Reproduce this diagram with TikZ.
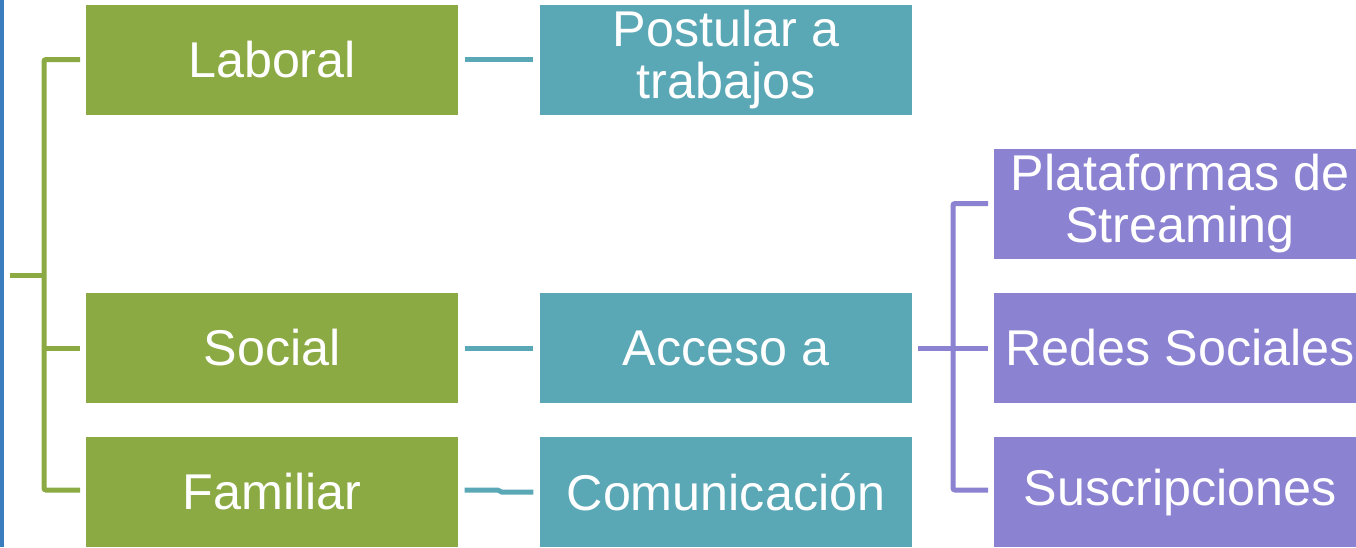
\documentclass[tikz,border=0pt]{standalone}
\usepackage{fontspec}
\setmainfont{Liberation Sans}
\usepackage{tikz}
\usetikzlibrary{calc}

\definecolor{greenbox}{RGB}{139,170,67}
\definecolor{tealbox}{RGB}{90,167,181}
\definecolor{purplebox}{RGB}{139,130,210}
\definecolor{sidebar}{RGB}{58,126,192}

\tikzset{
  box/.style={inner sep=0pt, outer sep=0pt, minimum width=279pt, minimum height=82.5pt,
    text=white, align=center, font=\fontsize{37.7}{39}\selectfont},
  gline/.style={draw=greenbox, line width=3.75pt, rounded corners=1.5pt},
  tline/.style={draw=tealbox, line width=3.75pt},
  pline/.style={draw=purplebox, line width=3.75pt, rounded corners=1.5pt}
}

\begin{document}
\begin{tikzpicture}[x=0.75pt,y=-0.75pt]
\useasboundingbox (0,0) rectangle (1356,547);
\fill [sidebar] (0,0) rectangle (4,547);

\node [box, fill=greenbox] (lab) at (272,59.5) {Laboral};
\node [box, fill=greenbox] (soc) at (272,348) {Social};
\node [box, fill=greenbox] (fam) at (272,492) {Familiar};

\node [box, fill=tealbox] (post) at (726,59.5) {Postular a\\trabajos};
\node [box, fill=tealbox] (acc) at (726,348) {Acceso a};
\node [box, fill=tealbox] (com) at (726,492) {Comunicación};

% right column runs past the page edge
\node [box, fill=purplebox] (plat) at (1180,203.5) {Plataformas de\\Streaming};
\node [box, fill=purplebox] (red) at (1180,348) {Redes Sociales};
\node [box, fill=purplebox] (sus) at (1180,492) {Suscripciones};

% green bracket
\coordinate (groot) at (10,275);
\draw [gline] ([xshift=-4.5pt]lab.west) -- ++(-36,0) |- ([xshift=-4.5pt,yshift=1.5pt]fam.west);
\draw [gline] (groot) -- ++(34,0);
\draw [gline] ([xshift=-4.5pt]soc.west) -- ++(-36,0);

% teal links
\draw [tline] ([xshift=5pt]lab.east) -- ([xshift=-5pt]post.west);
\draw [tline] ([xshift=5pt]soc.east) -- ([xshift=-5pt]acc.west);
\draw [tline] ([xshift=5pt,yshift=1.5pt]fam.east) -- ++(33,0) -- ++(4,2) -- ([xshift=-5pt]com.west);

% purple bracket
\draw [pline] ([xshift=-4.5pt]plat.west) -- ++(-35,0) |- ([xshift=-4.5pt,yshift=1.5pt]sus.west);
\draw [pline] ([xshift=4.5pt]acc.east) -- ([xshift=-4.5pt]red.west);
\end{tikzpicture}
\end{document}
